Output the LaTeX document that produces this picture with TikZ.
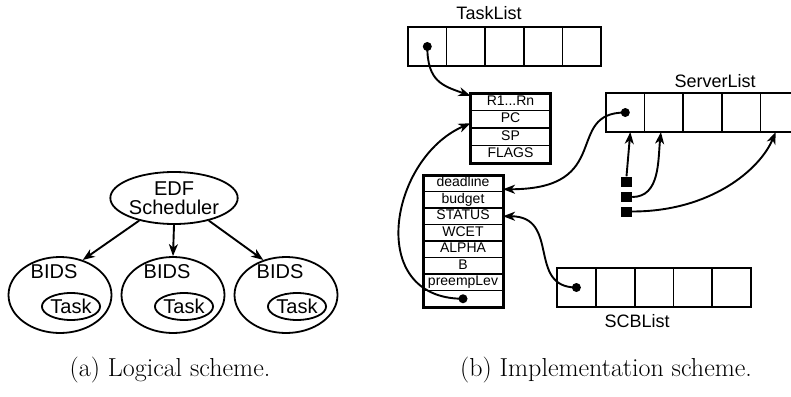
\documentclass[tikz,border=0pt]{standalone}
\usepackage{fontspec}
\usepackage{tikz}
\usetikzlibrary{shapes.geometric, arrows.meta}
\newfontfamily\helv{Liberation Sans}
\tikzset{
  sched/oval/.style    = {ellipse, draw, line width=1.8pt, inner sep=0pt, align=center,
                          font=\helv\fontsize{20}{19}\selectfont},
  sched/bids/.style    = {sched/oval, minimum width=103pt, minimum height=76pt},
  sched/task/.style    = {sched/oval, minimum width=58pt, minimum height=27pt},
  sched/label/.style   = {inner sep=0pt, anchor=base, font=\helv\fontsize{20}{19}\selectfont},
  sched/list/.style    = {inner sep=0pt, anchor=base, font=\helv\fontsize{18}{18}\selectfont},
  sched/cell/.style    = {draw, line width=1.6pt, minimum width=38.6pt, minimum height=39pt,
                          inner sep=0pt, outer sep=0pt},
  sched/field/.style   = {draw, line width=1.8pt, minimum width=80pt, inner sep=0pt, outer sep=0pt,
                          text height=10pt, text depth=3pt, font=\helv\fontsize{14}{14}\selectfont},
  sched/frame/.style   = {draw, line width=3pt},
  sched/dot/.style     = {circle, fill, inner sep=0pt, minimum size=9pt},
  sched/port/.style    = {fill, inner sep=0pt, minimum width=11pt, minimum height=10pt},
  sched/arrow/.style   = {-{Stealth[length=12pt, width=9pt, inset=3.5pt]}, line width=1.9pt},
  sched/caption/.style = {font=\fontsize{26}{30}\selectfont},
}
\begin{document}
\begin{tikzpicture}[x=1pt, y=-1pt]
  \useasboundingbox (0,0) rectangle (791,396);
  \clip (0,0) rectangle (791,396);
  % --- (a) logical scheme ---
  \node[sched/oval, minimum width=113pt, minimum height=52pt] (edf) at (174,198) {EDF\\Scheduler};
  \foreach \n/\x in {1/60, 2/173, 3/286} {
    \node[sched/bids] (bids\n) at (\x,295) {};
    \node[sched/label] (bidsl\n) at (\x-6,278) {BIDS};
    \node[sched/task] (task\n) at (\x+11,306.5) {Task};
  }
  \draw[sched/arrow] (edf.-147) -- (bids1.57);
  \draw[sched/arrow] (edf.south) -- (bids2.north);
  \draw[sched/arrow] (edf.-33) -- (bids3.123);
  % --- (b) implementation scheme: lists ---
  \foreach \i in {1,...,5}
    \node[sched/cell] (tl\i) at (408+\i*38.6-19.3, 46.5) {};
  \node[sched/list] (tlname) at (489,20) {TaskList};
  \foreach \i in {1,...,5}
    \node[sched/cell] (sv\i) at (606+\i*38.6-19.3, 112.5) {};
  \node[sched/list] (svname) at (715,87) {ServerList};
  \foreach \i in {1,...,5}
    \node[sched/cell] (sc\i) at (557+\i*38.8-19.4, 287.5) {};
  \node[sched/list] (scname) at (637,327) {SCBList};
  % --- task control block ---
  \node[sched/field, minimum height=17.5pt] (r1)    at (510.5, 101.75) {R1...Rn};
  \node[sched/field, minimum height=17.5pt] (pc)    at (510.5, 119.25) {PC};
  \node[sched/field, minimum height=17.5pt] (sp)    at (510.5, 136.75) {SP};
  \node[sched/field, minimum height=17.5pt] (flags) at (510.5, 154.25) {FLAGS};
  \draw[sched/frame] (r1.north west) rectangle (flags.south east);
  % --- server control block ---
  \foreach \f/\t [count=\k] in {deadline/deadline, budget/budget, status/STATUS, wcet/WCET,
                               alpha/ALPHA, b/B, preemp/preempLev, link/{}}
    \node[sched/field, minimum height=16.5pt] (\f) at (463, 175+\k*16.5-8.25) {\t};
  \draw[sched/frame] (deadline.north west) rectangle (link.south east);
  % --- pointers ---
  \node[sched/dot] (tldot)   at (tl1)  {};
  \node[sched/dot] (svdot)   at (sv1)  {};
  \node[sched/dot] (scdot)   at (sc1)  {};
  \node[sched/dot] (linkdot) at (link) {};
  \foreach \n/\y in {1/181.5, 2/197, 3/211.5}
    \node[sched/port] (port\n) at (626.5,\y) {};
  \draw[sched/arrow] (tldot.center) .. controls +(0,35) and +(-28,-10) .. ([yshift=6pt]r1.west);
  \draw[sched/arrow] (linkdot.center) .. controls +(-98,0) and +(-81,35) .. ([yshift=-4pt]pc.west);
  \draw[sched/arrow] (svdot.center) .. controls +(-62,0) and +(112,0) .. ([yshift=-6pt]deadline.east);
  \draw[sched/arrow] (scdot.center) .. controls +(-50,0) and +(58,0) .. (status.east);
  \draw[sched/arrow] (port1.north) -- ([xshift=5pt]sv1.south);
  \draw[sched/arrow] (port2.east) .. controls +(28,0) and +(-3,28) .. ([xshift=-3pt]sv2.south);
  \draw[sched/arrow] (port3.east) .. controls +(78,0) and +(-16,38) .. ([xshift=-4pt]sv5.south);
  % --- captions ---
  \node[sched/caption] (capa) at (170,370) {(a) Logical scheme.};
  \node[sched/caption] (capb) at (606,370) {(b) Implementation scheme.};
\end{tikzpicture}
\end{document}
